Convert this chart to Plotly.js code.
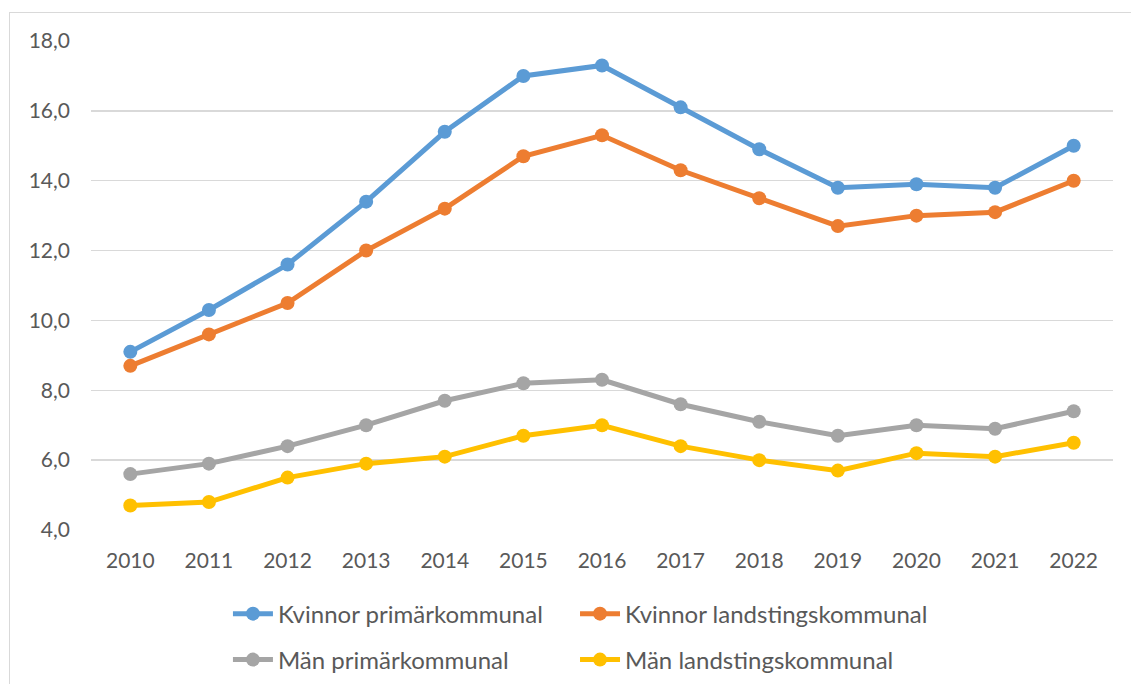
<!DOCTYPE html>
<html><head><meta charset="utf-8">
<script src="https://cdn.plot.ly/plotly-3.0.1.min.js"></script>
<style>
html,body{margin:0;padding:0;background:#fff;}
#chart{width:1131px;height:684px;position:absolute;left:0;top:0;}
#frame{position:absolute;left:9px;top:12px;width:1140px;height:700px;border:1px solid #d9d9d9;pointer-events:none;}
</style></head>
<body>
<div id="chart"></div>
<div id="frame"></div>
<script>
const years = ["2010","2011","2012","2013","2014","2015","2016","2017","2018","2019","2020","2021","2022"];
const kvinnorPrimar = [9.1,10.3,11.6,13.4,15.4,17.0,17.3,16.1,14.9,13.8,13.9,13.8,15.0];
const kvinnorLandsting = [8.7,9.6,10.5,12.0,13.2,14.7,15.3,14.3,13.5,12.7,13.0,13.1,14.0];
const manPrimar = [5.6,5.9,6.4,7.0,7.7,8.2,8.3,7.6,7.1,6.7,7.0,6.9,7.4];
const manLandsting = [4.7,4.8,5.5,5.9,6.1,6.7,7.0,6.4,6.0,5.7,6.2,6.1,6.5];
const names = ["Kvinnor primärkommunal","Kvinnor landstingskommunal","Män primärkommunal","Män landstingskommunal"];
const colors = ["#5B9BD5","#ED7D31","#A5A5A5","#FFC000"];
const series = [kvinnorPrimar,kvinnorLandsting,manPrimar,manLandsting];
const legendIds = ["legend","legend2","legend3","legend4"];
const traces = series.map((s,i)=>({
  x: years, y: s, name: names[i], type:'scatter', mode:'lines+markers',
  line:{color:colors[i], width:5}, marker:{color:colors[i], size:14},
  legend: legendIds[i], hovertemplate:'%{y:.1f}<extra></extra>'
}));
const font = {family:'Lato, "Open Sans", sans-serif', size:21, color:'#595959'};
const legendBase = {orientation:'h', xanchor:'left', yanchor:'middle',
  yref:'container', font:{family:font.family,size:24,color:'#595959'}, bgcolor:'rgba(0,0,0,0)', itemwidth:40};
const colX = [0.134, 0.4736];
const rowY = [0.1023, 0.0351];
const layout = {
  width:1131, height:684,
  margin:{l:91, r:18, t:41, b:154},
  paper_bgcolor:'#fff', plot_bgcolor:'#fff',
  font: font,
  separators: ',.',
  showlegend:true,
  xaxis:{type:'category', range:[-0.5,12.5], showgrid:false, zeroline:false, showline:false, ticks:'', tickfont:font, ticklabelstandoff:16},
  yaxis:{range:[4,18], dtick:2, tick0:4, tickformat:'.1f', showgrid:true, gridcolor:'#d9d9d9', gridwidth:1.5,
    zeroline:false, showline:false, ticks:'', tickfont:font, ticklabelstandoff:20}
};
legendIds.forEach((id,i)=>{
  layout[id] = Object.assign({}, legendBase, {x: colX[i%2], y: rowY[Math.floor(i/2)]});
});
Plotly.newPlot('chart', traces, layout, {displayModeBar:false, staticPlot:true});
</script>
</body></html>
